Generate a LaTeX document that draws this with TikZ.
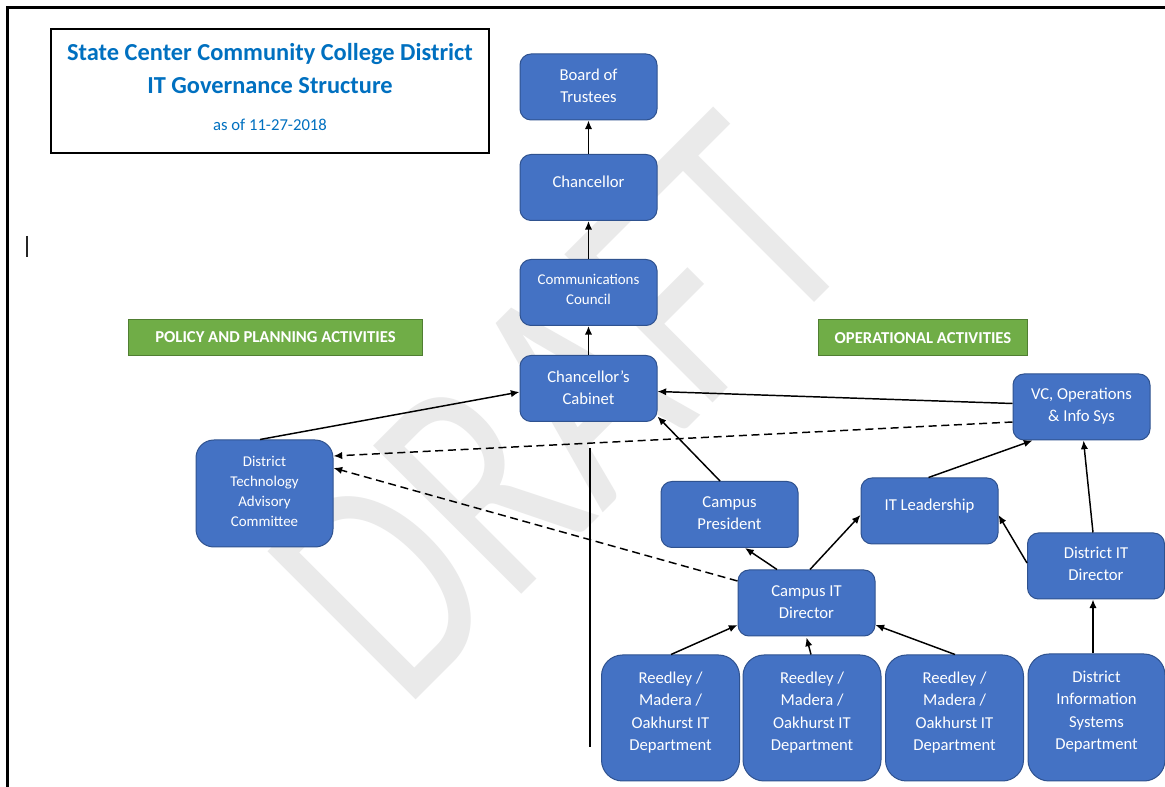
\documentclass[tikz,border=0pt]{standalone}
\usepackage{fontspec}
\setmainfont{Carlito}
\usetikzlibrary{arrows.meta,calc}
\definecolor{boxc}{HTML}{4472C4}
\definecolor{bordc}{HTML}{2F528F}
\definecolor{greenc}{HTML}{70AD47}
\definecolor{greenb}{HTML}{507E32}
\definecolor{titlec}{HTML}{0070C0}
\definecolor{wmc}{HTML}{EAEAEA}
\tikzset{
  box/.style={draw=bordc, fill=boxc, line width=0.75pt, rounded corners=8.25pt,
    minimum width=102.75pt, minimum height=49.5pt, inner sep=0pt},
  tallbox/.style={box, rounded corners=15.75pt, minimum width=103.5pt, minimum height=94.5pt},
  txt/.style={text=white, align=center, inner sep=0pt, font=\fontsize{12.5}{16.8}\selectfont},
  smalltxt/.style={txt, font=\fontsize{11.2}{15}\selectfont},
  greenbox/.style={draw=greenb, fill=greenc, line width=0.75pt, inner sep=0pt,
    text=white, font=\fontsize{12.5}{15}\selectfont\bfseries},
  conn/.style={line width=1.1pt, -{Latex[length=6.5pt,width=5.5pt]}},
  dconn/.style={conn, dash pattern=on 6pt off 3.5pt},
  wmark/.style={rotate=45, xscale=0.74, text=wmc, inner sep=0pt, font=\fontsize{245}{245}\selectfont},
}
\begin{document}
\begin{tikzpicture}[x=0.75pt,y=-0.75pt]
\useasboundingbox (0,0) rectangle (1165,787);
\fill[white] (0,0) rectangle (1165,787);
% watermark
\node[wmark] (wm) at (560,408) {DRAFT};
% page frame and cursor
\draw[line width=2.25pt] (7.5,787) -- (7.5,7.5) -- (1165,7.5);
\draw[line width=1.1pt, black!85] (27,236) -- (27,257);
% title
\node[draw=black, line width=1.1pt, minimum width=328.5pt, minimum height=93pt, inner sep=0pt] (title) at (270,91) {};
\node[text=titlec, inner sep=0pt, font=\fontsize{18.3}{22}\selectfont\bfseries] (t1) at (270,54) {State Center Community College District};
\node[text=titlec, inner sep=0pt, font=\fontsize{18.3}{22}\selectfont\bfseries] (t2) at (270,86) {IT Governance Structure};
\node[text=titlec, inner sep=0pt, font=\fontsize{12.5}{15}\selectfont] (t3) at (270,125) {as of 11-27-2018};
% green labels
\node[greenbox, minimum width=220.5pt, minimum height=27pt] (pol) at (275.5,337.5) {POLICY AND PLANNING ACTIVITIES};
\node[greenbox, minimum width=156.75pt, minimum height=27pt] (ops) at (923,338) {OPERATIONAL ACTIVITIES};
% boxes
\node[box] (bot) at (588.5,87) {};
\node[txt] (botT) at (588.5,85.5) {Board of\\Trustees};
\node[box] (chan) at (588.5,187.5) {};
\node[txt] (chanT) at (588.5,181.5) {Chancellor};
\node[box] (comm) at (588.5,292.5) {};
\node[smalltxt] (commT) at (588.5,289.5) {Communications\\Council};
\node[box] (cab) at (588.5,388.5) {};
\node[txt] (cabT) at (588.5,387.5) {Chancellor’s\\Cabinet};
\node[box, rounded corners=13.4pt, minimum height=80.25pt] (dtac) at (264.5,493.5) {};
\node[smalltxt] (dtacT) at (264.5,491.5) {District\\Technology\\Advisory\\Committee};
\node[box] (vc) at (1081.5,407) {};
\node[txt] (vcT) at (1081.5,406) {VC, Operations\\\& Info Sys};
\node[box] (pres) at (729.5,514.5) {};
\node[txt] (presT) at (729.5,513) {Campus\\President};
\node[box] (itl) at (929.5,511) {};
\node[txt] (itlT) at (929.5,506) {IT Leadership};
\node[box] (dit) at (1096,566) {};
\node[txt] (ditT) at (1096,564) {District IT\\Director};
\node[box] (cit) at (806.5,603) {};
\node[txt] (citT) at (806.5,602) {Campus IT\\Director};
\node[tallbox] (r1) at (670.5,718) {};
\node[txt] (r1T) at (670.5,712.5) {Reedley /\\Madera /\\Oakhurst IT\\Department};
\node[tallbox] (r2) at (812,718) {};
\node[txt] (r2T) at (812,712.5) {Reedley /\\Madera /\\Oakhurst IT\\Department};
\node[tallbox] (r3) at (954.5,718) {};
\node[txt] (r3T) at (954.5,712.5) {Reedley /\\Madera /\\Oakhurst IT\\Department};
\node[tallbox, minimum width=102.75pt, minimum height=95.25pt] (disd) at (1096.5,717.5) {};
\node[txt] (disdT) at (1096.5,711.5) {District\\Information\\Systems\\Department};
% connectors
\draw[conn] (chan.north) -- (bot.south);
\draw[conn] (comm.north) -- (chan.south);
\draw[conn] (cab.north) -- (comm.south);
\draw[conn] ($(dtac.north)+(-4.5,0)$) -- ($(cab.west)+(0,3.5)$);
\draw[conn] ($(vc.west)+(0,-3.5)$) -- ($(cab.east)+(0,3)$);
\draw[dconn] ($(vc.west)+(0,15)$) -- ($(dtac.east)+(0,-37.5)$);
\draw[dconn] ($(cit.west)+(0,-22)$) -- ($(dtac.east)+(0,-25.5)$);
\draw[conn] ($(pres.north)+(-9.5,0)$) -- ($(cab.east)+(0,28)$);
\draw[conn] ($(cit.north)+(-29.5,0)$) -- ($(pres.south)+(15.5,0)$);
\draw[conn] ($(cit.north)+(3.5,0)$) -- ($(itl.west)+(0,4)$);
\draw[conn] ($(itl.north)+(-1,0)$) -- ($(vc.south)+(-49,0)$);
\draw[conn] ($(dit.west)+(0,-3)$) -- ($(itl.east)+(0,4)$);
\draw[conn] ($(dit.north)+(-3,0)$) -- ($(vc.south)+(2,0)$);
\draw[conn] ($(disd.north)+(-3.5,0)$) -- ($(dit.south)+(-3,0)$);
\draw[conn] ($(r1.north)+(0.5,0)$) -- ($(cit.west)+(0,22)$);
\draw[conn] ($(r2.north)+(-1,0)$) -- ($(cit.south)+(0,1)$);
\draw[conn] ($(r3.north)+(0.5,0)$) -- ($(cit.east)+(0,22)$);
% stray vertical line
\coordinate (vtop) at (590,448);
\coordinate (vbot) at (590,747);
\draw[line width=1.9pt] (vtop) -- (vbot);
\end{tikzpicture}
\end{document}
